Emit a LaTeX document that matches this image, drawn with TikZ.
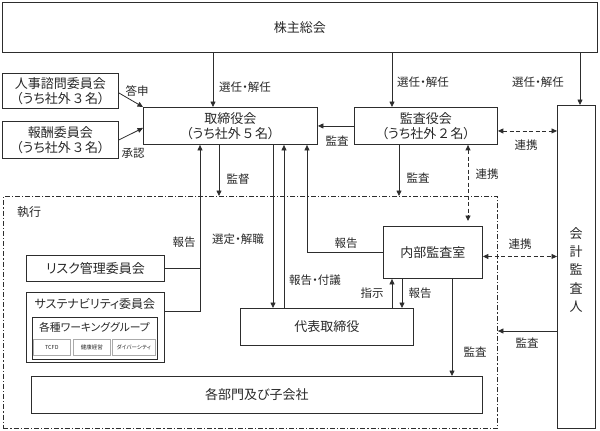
\documentclass[tikz,border=0pt]{standalone}
\usepackage{fontspec}
\setmainfont{Noto Sans CJK JP}[RawFeature=+palt]
\usetikzlibrary{arrows.meta}
\definecolor{linec}{RGB}{45,45,45}
\definecolor{textc}{RGB}{40,40,40}
\definecolor{lightc}{RGB}{170,170,170}
\begin{document}
\begin{tikzpicture}[x=1pt,y=-1pt,
  box/.style={draw=linec, line width=0.9pt, inner sep=0pt, anchor=north west, align=center,
    text=textc, font=\fontsize{13}{15}\selectfont, fill=white},
  lbl/.style={inner sep=0pt, text=textc, font=\fontsize{11.5}{13}\selectfont},
  arr/.style={draw=linec, line width=0.8pt, -{Triangle[length=5.5pt,width=5pt]}},
  darr/.style={draw=linec, line width=0.9pt, dash pattern=on 4pt off 2.5pt,
    {Triangle[length=5.5pt,width=5pt]}-{Triangle[length=5.5pt,width=5pt]}},
  plain/.style={draw=linec, line width=0.8pt},
  execframe/.style={draw=linec, line width=0.9pt, inner sep=0pt, anchor=north west,
    dash pattern=on 5pt off 2pt on 1.2pt off 2pt},
  tiny/.style={draw=lightc, line width=0.6pt, inner sep=0pt, anchor=north west, text=textc,
    font=\fontsize{5.5}{6}\selectfont, fill=white}
]
\useasboundingbox (0,0) rectangle (600,431);

% execution frame
\node[execframe, minimum width=494pt, minimum height=232pt] (exec) at (3,196) {};
\node[lbl, font=\fontsize{12}{14}\selectfont] (execlbl) at (29,212) {執行};

% boxes
\node[box, minimum width=595pt, minimum height=50pt] (kabu) at (2,2) {株主総会};
\node[box, minimum width=116pt, minimum height=35pt] (jinji) at (2,73) {人事諮問委員会\\（うち社外\,３\,名）};
\node[box, minimum width=116pt, minimum height=37pt] (hoshu) at (2,121) {報酬委員会\\（うち社外\,３\,名）};
\node[box, minimum width=174pt, minimum height=37pt] (tori) at (143,107) {取締役会\\（うち社外\,５\,名）};
\node[box, minimum width=143pt, minimum height=37pt] (kansa) at (354,107) {監査役会\\（うち社外\,２\,名）};
\node[box, minimum width=38pt, minimum height=323pt] (kaikei) at (557,105) {};
\node[inner sep=0pt, align=center, text=textc, font=\fontsize{13}{18.3}\selectfont] (kaikeitxt) at (576,270) {会\\計\\監\\査\\人};
\node[box, minimum width=99pt, minimum height=52pt] (naibu) at (383,226) {内部監査室};
\node[box, minimum width=138pt, minimum height=26pt] (risk) at (26,255) {リスク管理委員会};
\node[box, minimum width=138pt, minimum height=70pt] (sus) at (26,292) {};
\node[inner sep=0pt, text=textc, font=\fontsize{12}{14}\selectfont] (sustxt) at (95,303.5) {サステナビリティ委員会};
\node[box, line width=1.4pt, minimum width=125pt, minimum height=42pt] (wg) at (32,317) {};
\node[inner sep=0pt, text=textc, font=\fontsize{10.8}{13}\selectfont] (wgtxt) at (94.5,327) {各種ワーキンググループ};
\node[tiny, minimum width=37pt, minimum height=16pt] (tcfd) at (33,339) {TCFD};
\node[tiny, minimum width=37pt, minimum height=16pt] (kenko) at (73,339) {健康経営};
\node[tiny, minimum width=43pt, minimum height=16pt] (div) at (112,339) {ダイバーシティ};
\node[box, minimum width=173pt, minimum height=37pt] (daihyo) at (240,308) {代表取締役};
\node[box, minimum width=451pt, minimum height=37pt] (bumon) at (31,376) {各部門及び子会社};

% column coordinates
\coordinate (x200) at (200,0);
\coordinate (x213) at (213,0);
\coordinate (x219) at (219,0);
\coordinate (x273) at (273,0);
\coordinate (x284) at (284,0);
\coordinate (x307) at (307,0);
\coordinate (x392) at (392,0);
\coordinate (x399) at (399,0);
\coordinate (x402) at (402,0);
\coordinate (x452) at (452,0);
\coordinate (x468) at (468,0);
\coordinate (x580) at (580,0);
\coordinate (y311) at (0,311);
\coordinate (y331) at (0,331);

% connectors
\draw[arr] (kabu.south -| x213) -- (tori.north -| x213);
\draw[arr] (kabu.south -| x392) -- (kansa.north -| x392);
\draw[arr] (kabu.south -| x580) -- (kaikei.north -| x580);
\draw[arr] ([yshift=-2pt]jinji.east) -- (tori.north west);
\draw[arr] (hoshu.east) -- ([yshift=-2pt]tori.west);
\draw[arr] (kansa.west) -- (tori.east);
\draw[darr] ([yshift=-5pt]kansa.east) -- ([yshift=-5pt]kansa.east -| kaikei.west);
\draw[darr, shorten >=5pt] (kansa.south -| x468) -- (naibu.north -| x468);
\draw[arr] (kansa.south -| x399) -- (exec.north -| x399);
\draw[arr] (tori.south -| x219) -- (exec.north -| x219);
\draw[arr] (sus.east |- y311) -| (tori.south -| x200);
\draw[plain] (risk.east) -- (risk.east -| x200);
\draw[arr] (tori.south -| x273) -- (daihyo.north -| x273);
\draw[arr] (daihyo.north -| x284) -- (tori.south -| x284);
\draw[arr] (naibu.west) -| (tori.south -| x307);
\draw[arr] (daihyo.north -| x392) -- (naibu.south -| x392);
\draw[arr] (naibu.south -| x402) -- (daihyo.north -| x402);
\draw[arr] (naibu.south -| x452) -- (bumon.north -| x452);
\draw[darr] ([yshift=-4pt]naibu.east) -- ([yshift=-4pt]naibu.east -| kaikei.west);
\draw[arr] (kaikei.west |- y331) -- (exec.east |- y331);

% labels
\node[lbl] (l1) at (245,87) {選任・解任};
\node[lbl] (l2) at (423,82) {選任・解任};
\node[lbl] (l3) at (538,82) {選任・解任};
\node[lbl] (l4) at (137,91) {答申};
\node[lbl] (l5) at (133,153) {承認};
\node[lbl] (l6) at (337,141) {監査};
\node[lbl] (l7) at (526,145) {連携};
\node[lbl] (l8) at (487,174) {連携};
\node[lbl] (l9) at (418,178) {監査};
\node[lbl] (l10) at (238,179) {監督};
\node[lbl] (l11) at (184,242) {報告};
\node[lbl] (l12) at (238,239) {選定・解職};
\node[lbl] (l13) at (346,243) {報告};
\node[lbl] (l14) at (315,280) {報告・付議};
\node[lbl] (l15) at (372,293) {指示};
\node[lbl] (l16) at (420,293) {報告};
\node[lbl] (l17) at (520,244) {連携};
\node[lbl] (l18) at (475,352) {監査};
\node[lbl] (l19) at (527,343) {監査};
\end{tikzpicture}
\end{document}
